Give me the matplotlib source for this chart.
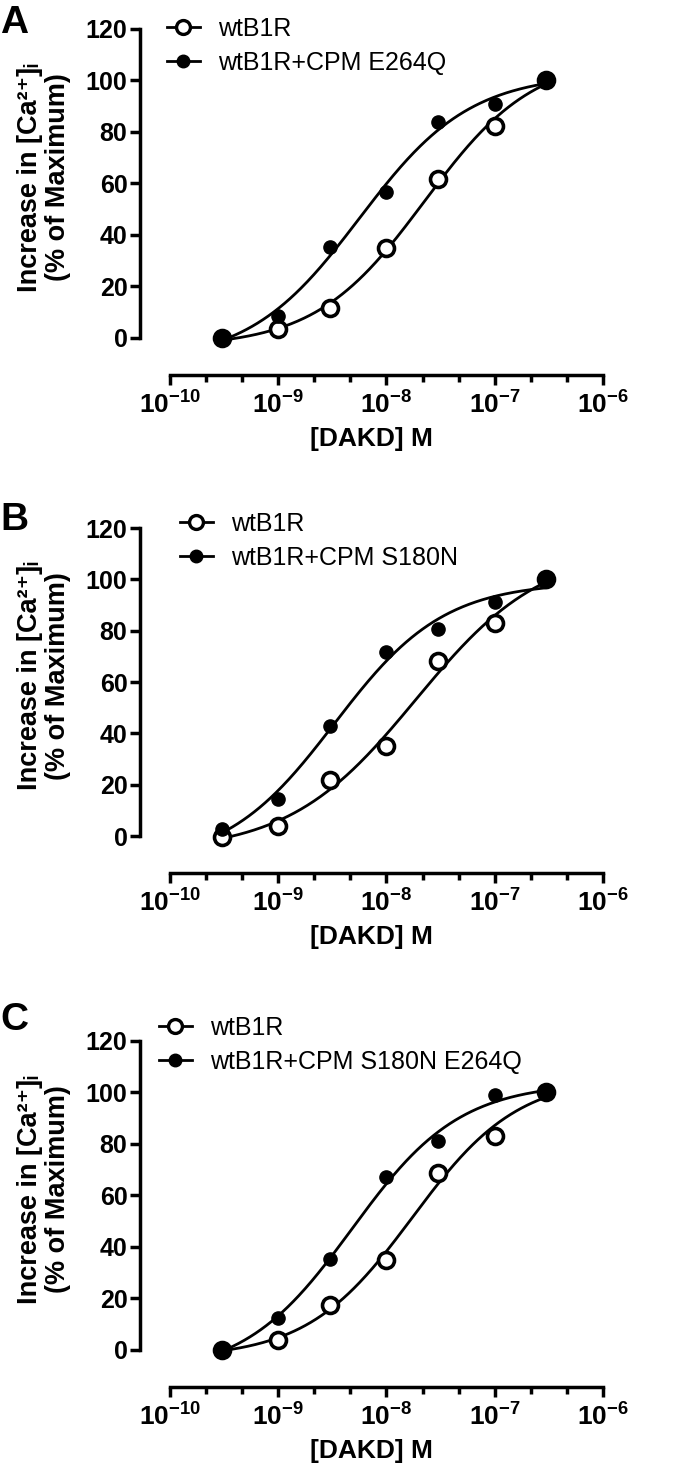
import matplotlib
matplotlib.use("Agg")
import matplotlib.pyplot as plt
from matplotlib.lines import Line2D
import numpy as np

plt.rcParams['font.family'] = ['Liberation Sans', 'DejaVu Sans']
plt.rcParams['mathtext.fontset'] = 'custom'
plt.rcParams['mathtext.rm'] = 'Liberation Sans:bold'
plt.rcParams['mathtext.it'] = 'Liberation Sans:bold'
plt.rcParams['mathtext.bf'] = 'Liberation Sans:bold'
plt.rcParams['mathtext.default'] = 'rm'

# DAKD concentrations (M)
dose = [3e-10, 1e-9, 3e-9, 1e-8, 3e-8, 1e-7, 3e-7]

# % of maximum
wt_a = [0, 3.5, 11.7, 35, 61.8, 82.5, 100]
e264q = [0, 8.5, 35.4, 56.7, 83.8, 91, 100]
wt_b = [-0.5, 4, 21.7, 35, 68, 83, 100]
s180n = [2.7, 14.6, 42.8, 71.5, 80.6, 91.2, 100]
wt_c = [0, 3.9, 17.5, 35, 68.9, 83.2, 100]
s180n_e264q = [0, 12.3, 35.4, 67, 81, 99, 100]

panel_letters = ['A', 'B', 'C']
mut_labels = ['wtB1R+CPM E264Q', 'wtB1R+CPM S180N', 'wtB1R+CPM S180N E264Q']
wt_series = [wt_a, wt_b, wt_c]
mut_series = [e264q, s180n, s180n_e264q]

xtick_vals = [1e-10, 1e-9, 1e-8, 1e-7, 1e-6]
xtick_labels = [r'$10^{-10}$', r'$10^{-9}$', r'$10^{-8}$', r'$10^{-7}$', r'$10^{-6}$']
ytick_vals = [0, 20, 40, 60, 80, 100, 120]


def fit_logistic(x, y):
    # 4-parameter logistic, grid over logEC50 / hill, linear solve for bottom/top
    lx = np.log10(np.asarray(x))
    y = np.asarray(y, dtype=float)
    ec, hill = np.meshgrid(np.linspace(-10, -6, 401), np.linspace(0.3, 2.5, 221))
    ec = ec.ravel()[:, None]
    hill = hill.ravel()[:, None]
    f = 1.0 / (1.0 + 10 ** ((ec - lx[None, :]) * hill))
    fm = f.mean(axis=1, keepdims=True)
    ym = y.mean()
    slope = ((f - fm) * (y - ym)).sum(axis=1, keepdims=True) / ((f - fm) ** 2).sum(axis=1, keepdims=True)
    icpt = ym - slope * fm
    res = ((icpt + slope * f - y) ** 2).sum(axis=1)
    i = np.argmin(res)
    return icpt[i, 0], slope[i, 0] + icpt[i, 0], ec[i, 0], hill[i, 0]


def logistic(x, bottom, top, ec, hill):
    return bottom + (top - bottom) / (1.0 + 10 ** ((ec - np.log10(x)) * hill))


W, H = 680, 1468
fig = plt.figure(figsize=(W / 100, H / 100), dpi=100)

# (px of 120 tick, px of x axis line)
boxes = [(29, 375), (528, 873), (1041, 1387)]
legend_pos = [(167, 46), (180, 541), (159, 1045)]
letter_base = [33, 530, 1030]

lw_sp = 2.5
xs = np.logspace(np.log10(dose[0]), np.log10(dose[-1]), 300)

for k in range(3):
    top, bot = boxes[k]
    ax = fig.add_axes([140 / W, 1 - bot / H, 463 / W, (bot - top) / H])
    ax.set_xscale('log')
    ax.set_xlim(10 ** (-10 - 30 / 108.3), 1e-6)
    ax.set_ylim(-14.4, 120)

    wt = wt_series[k]
    mut = mut_series[k]
    p_wt = fit_logistic(dose, wt)
    p_mut = fit_logistic(dose, mut)
    ax.plot(xs, logistic(xs, *p_wt), color='black', lw=2, zorder=2)
    ax.plot(xs, logistic(xs, *p_mut), color='black', lw=2, zorder=2)
    ax.plot(dose, wt, 'o', ls='none', mfc='white', mec='black', mew=2.6, ms=11.5, zorder=3, clip_on=False)
    ax.plot(dose, mut, 'o', ls='none', color='black', ms=9.5, zorder=4, clip_on=False)

    for s in ['top', 'right']:
        ax.spines[s].set_visible(False)
    ax.spines['left'].set_bounds(0, 120)
    ax.spines['bottom'].set_bounds(1e-10, 1e-6)
    ax.spines['left'].set_linewidth(lw_sp)
    ax.spines['bottom'].set_linewidth(lw_sp)

    ax.set_yticks(ytick_vals)
    ax.set_yticklabels([str(v) for v in ytick_vals], fontweight='bold', fontsize=18)
    ax.set_xticks(xtick_vals)
    ax.set_xticklabels(xtick_labels, fontsize=19)
    minors = [10 ** (e + f) for e in range(-10, -6) for f in (1 / 3, 2 / 3)]
    ax.set_xticks(minors, minor=True)
    ax.set_xticklabels([], minor=True)
    ax.tick_params(axis='both', which='major', direction='out', length=7, width=lw_sp, pad=2)
    ax.tick_params(axis='x', which='minor', direction='out', length=5, width=lw_sp)
    ax.tick_params(axis='x', which='major', pad=5)

    ax.set_xlabel('[DAKD] M', fontsize=19, fontweight='bold', labelpad=6)

    # y label, two lines
    ycen = 1 - ((top + (bot - 37)) / 2 - 6) / H
    fig.text(44 / W, ycen, 'Increase in [Ca²⁺]ᵢ\n(% of Maximum)',
             rotation=90, ha='center', va='center', fontsize=19.5, fontweight='bold',
             multialignment='center', linespacing=1.1)

    handles = [
        Line2D([], [], color='black', lw=2, marker='o', mfc='white', mec='black', mew=2.4, ms=10),
        Line2D([], [], color='black', lw=2, marker='o', ms=9),
    ]
    lx, ly = legend_pos[k]
    fig.legend(handles, ['wtB1R', mut_labels[k]], loc='center left',
               bbox_to_anchor=(lx / W, 1 - ly / H), frameon=False, fontsize=18,
               handlelength=1.3, handletextpad=0.75, borderpad=0, borderaxespad=0,
               labelspacing=0.4)

    fig.text(0, 1 - letter_base[k] / H, panel_letters[k], fontsize=28, fontweight='bold',
             ha='left', va='baseline')

fig.savefig('out.png', dpi=100)
